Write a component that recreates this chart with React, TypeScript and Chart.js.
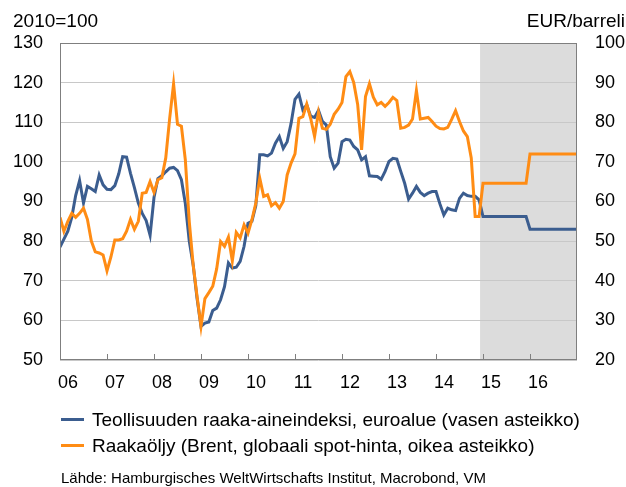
import React, { useEffect, useRef } from "react";
import { Chart, registerables } from "chart.js";

Chart.register(...registerables);

// Year tick labels (Jan of each year), month index 0 = Jan 2006
const yearLabels = ["06", "07", "08", "09", "10", "11", "12", "13", "14", "15", "16"];

// Industrial raw material index, euro area (left axis, 2010=100), monthly Jan 2006 .. Jan 2017
const rawMaterialIndex = [
  78.5, 80.5, 82.5, 86, 91.5, 95.3, 89.6, 93.8, 93.2, 92.5, 96.7, 94.2,
  93.1, 93.0, 94.0, 97.0, 101.3, 101.2, 97.1, 93.5, 89.6, 87.0, 85.2, 81.5,
  91.0, 95.8, 96.5, 97.5, 98.4, 98.6, 97.8, 95.5, 89.5, 80.0, 74.0, 65.5,
  58.5, 59.3, 59.6, 62.5, 63.1, 65.2, 68.5, 74.5, 73.2, 73.4, 74.9, 78.7,
  84.5, 85.0, 89.0, 101.8, 101.8, 101.5, 102.2, 104.7, 106.4, 103.4, 105.1, 109.7,
  115.8, 117.1, 113.1, 114.4, 111.5, 111.2, 113.0, 110.2, 109.3, 101.3, 98.4, 99.7,
  105.1, 105.7, 105.5, 103.9, 103.0, 100.5, 101.3, 96.5, 96.4, 96.3, 95.6, 97.6,
  100.1, 100.9, 100.7, 97.6, 94.6, 90.6, 92.1, 93.8, 92.3, 91.5, 92.1, 92.5,
  92.5, 89.4, 86.6, 88.3, 87.9, 87.7, 90.8, 92.1, 91.5, 91.3, 91.3, 90.4,
  86.2, 86.2, 86.2, 86.2, 86.2, 86.2, 86.2, 86.2, 86.2, 86.2, 86.2, 86.2,
  83, 83, 83, 83, 83, 83, 83, 83, 83, 83, 83, 83, 83,
];

// Brent crude oil, EUR/barrel (right axis), monthly Jan 2006 .. Jan 2017
const brentOil = [
  56, 52.5, 55, 57, 56, 57, 58.3, 55.5, 50, 47.3, 47, 46.5,
  42.5, 46, 50.3, 50.3, 50.6, 52.5, 55.5, 53, 55, 62.1, 62.3, 65,
  62.3, 65.5, 66, 71, 81, 89.7, 79.5, 79, 70.5, 55, 44, 36,
  28.5, 35.5, 37, 38.6, 43, 49.9, 48.7, 51, 45, 52.2, 50.8, 54.1,
  52, 55.4, 59.6, 65.9, 61.3, 61.7, 58.9, 59.7, 58.3, 60, 66.7, 69.7,
  72, 81, 81.4, 84.6, 81, 76.4, 82.5, 78.5, 78.2, 79.5, 82, 83.3,
  85, 91.5, 92.8, 90, 84.5, 73, 86.5, 89.7, 86.3, 84.4, 85, 84,
  85, 86.3, 85.5, 78.5, 78.7, 79.3, 80.8, 88, 80.8, 81, 81.2, 80.2,
  79, 78.4, 78.3, 78.7, 80.7, 82.9, 80.2, 77.8, 76.4, 71, 56.2, 56.2,
  64.6, 64.6, 64.6, 64.6, 64.6, 64.6, 64.6, 64.6, 64.6, 64.6, 64.6, 64.6,
  72, 72, 72, 72, 72, 72, 72, 72, 72, 72, 72, 72, 72,
];

const seriesNames = [
  "Teollisuuden raaka-aineindeksi, euroalue (vasen asteikko)",
  "Raakaöljy (Brent, globaali spot-hinta, oikea asteikko)",
];
const leftTitle = "2010=100";
const rightTitle = "EUR/barreli";
const sourceText = "Lähde: Hamburgisches WeltWirtschafts Institut, Macrobond, VM";

const forecastStart = 107.25; // month index where the shaded forecast area starts
const BLUE = "#3b5d8f";
const ORANGE = "#ff8c14";
const FONT = "'Liberation Sans', Arial, Helvetica, sans-serif";

const decorPlugin = {
  id: "decor",
  beforeDraw(chart: any) {
    const { ctx, chartArea, scales } = chart;
    const x0 = scales.x.getPixelForValue(forecastStart);
    ctx.save();
    ctx.fillStyle = "#dcdcdc";
    ctx.fillRect(x0, chartArea.top, chartArea.right - x0, chartArea.bottom - chartArea.top);
    ctx.restore();
  },
  afterDraw(chart: any) {
    const { ctx, chartArea, scales } = chart;
    ctx.save();
    ctx.strokeStyle = "#7f7f7f";
    ctx.lineWidth = 1;
    ctx.strokeRect(
      Math.round(chartArea.left) + 0.5,
      Math.round(chartArea.top) + 0.5,
      Math.round(chartArea.right - chartArea.left) - 1,
      Math.round(chartArea.bottom - chartArea.top) - 1
    );
    ctx.beginPath();
    for (let i = 1; i < yearLabels.length; i++) {
      const px = Math.round(scales.x.getPixelForValue(i * 12)) + 0.5;
      ctx.moveTo(px, chartArea.bottom);
      ctx.lineTo(px, chartArea.bottom - 6);
    }
    ctx.stroke();
    ctx.restore();
  },
};

export default function App() {
  const canvasRef = useRef<HTMLCanvasElement | null>(null);

  useEffect(() => {
    if (!canvasRef.current) return;
    Chart.defaults.font.family = FONT;
    const chart = new Chart(canvasRef.current, {
      type: "line",
      data: {
        datasets: [
          {
            label: seriesNames[0],
            data: rawMaterialIndex.map((v, i) => ({ x: i, y: v })),
            borderColor: BLUE,
            borderWidth: 3,
            pointRadius: 0,
            tension: 0,
            yAxisID: "y",
            order: 2,
          },
          {
            label: seriesNames[1],
            data: brentOil.map((v, i) => ({ x: i, y: v })),
            borderColor: ORANGE,
            borderWidth: 3,
            pointRadius: 0,
            tension: 0,
            yAxisID: "y1",
            order: 1,
          },
        ],
      },
      options: {
        responsive: false,
        animation: false,
        layout: { padding: { top: 43, left: 0, right: 0, bottom: 97 } },
        plugins: { legend: { display: false }, tooltip: { enabled: false } },
        scales: {
          x: {
            type: "linear",
            min: 0,
            max: 132,
            grid: { display: false, drawTicks: false },
            border: { display: false },
            afterBuildTicks: (scale: any) => {
              scale.ticks = yearLabels.map((_, i) => ({ value: i * 12 }));
            },
            afterFit: (scale: any) => {
              scale.height = 30;
            },
            ticks: {
              autoSkip: false,
              maxRotation: 0,
              labelOffset: 8,
              padding: 12,
              color: "#000",
              font: { size: 18 },
              callback: (v: any) => yearLabels[Math.round(Number(v) / 12)] ?? "",
            },
          },
          y: {
            position: "left",
            min: 50,
            max: 130,
            grid: { color: "#c8c8c8", lineWidth: 1, drawTicks: false },
            border: { display: false },
            afterFit: (scale: any) => {
              scale.width = 60;
            },
            ticks: { stepSize: 10, padding: 17, color: "#000", font: { size: 18 } },
          },
          y1: {
            position: "right",
            min: 20,
            max: 100,
            grid: { drawOnChartArea: false, drawTicks: false },
            border: { display: false },
            afterFit: (scale: any) => {
              scale.width = 49;
            },
            ticks: { stepSize: 10, padding: 18, color: "#000", font: { size: 18 } },
          },
        },
      },
      plugins: [decorPlugin],
    });
    return () => chart.destroy();
  }, []);

  const text: React.CSSProperties = {
    position: "absolute",
    fontFamily: FONT,
    color: "#000",
    whiteSpace: "nowrap",
    lineHeight: "1",
  };

  return (
    <div style={{ position: "absolute", left: 0, top: 0, width: 626, height: 487, background: "#fff" }}>
      <canvas ref={canvasRef} width={626} height={487} style={{ position: "absolute", left: 0, top: 0 }} />
      <div style={{ ...text, left: 13, top: 11, fontSize: 19 }}>{leftTitle}</div>
      <div style={{ ...text, right: 1, top: 11, fontSize: 19, textAlign: "right" }}>{rightTitle}</div>
      {seriesNames.map((name, i) => (
        <div key={name} style={{ ...text, left: 61, top: 410 + i * 26, fontSize: 19, display: "flex", alignItems: "center" }}>
          <span style={{ display: "inline-block", width: 23, height: 3, background: i === 0 ? BLUE : ORANGE, marginRight: 8 }} />
          <span>{name}</span>
        </div>
      ))}
      <div style={{ ...text, left: 61, top: 470, fontSize: 15 }}>{sourceText}</div>
    </div>
  );
}
